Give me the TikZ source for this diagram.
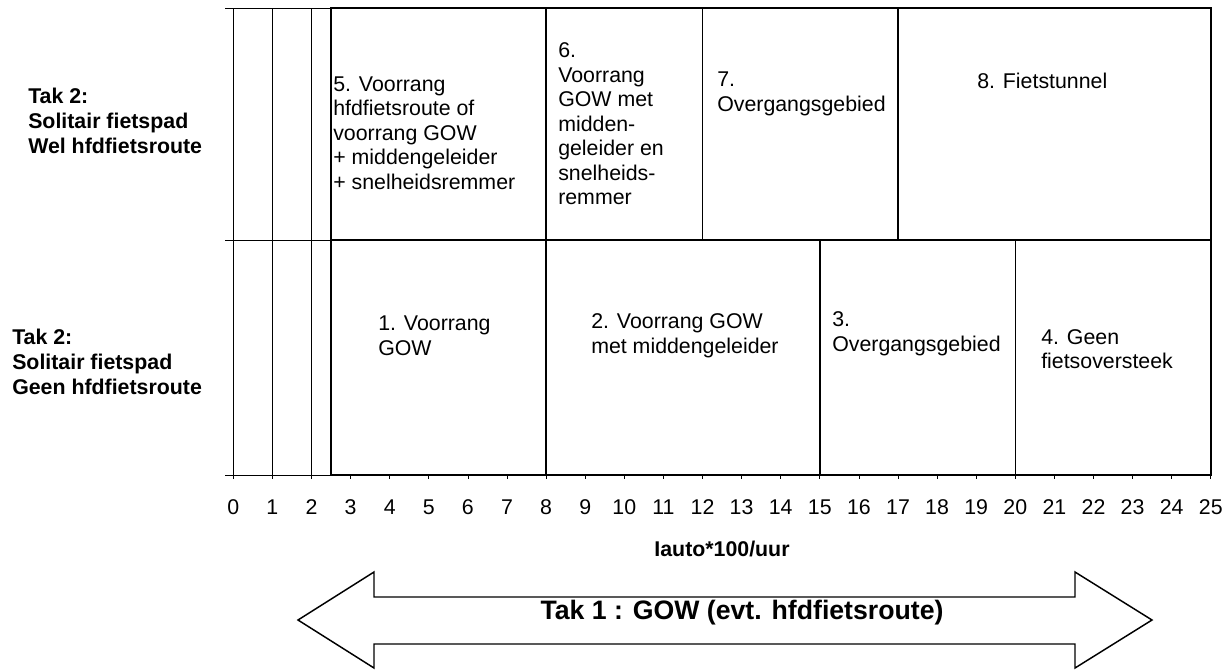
\documentclass[tikz,border=0pt]{standalone}
\usepackage{fontspec}
\setmainfont{Liberation Sans}
\begin{document}
\begin{tikzpicture}[x=0.75pt,y=-0.75pt,
  thinline/.style={line width=0.5pt, draw=black},
  boxline/.style={line width=1.1pt, draw=black},
  lbl/.style={inner sep=0pt, anchor=west, align=left, font=\fontsize{16}{18.4}\selectfont},
  sidelbl/.style={inner sep=0pt, anchor=west, align=left, font=\fontsize{16}{18.9}\selectfont\bfseries},
  num/.style={inner sep=0pt, anchor=center, font=\fontsize{16}{18.4}\selectfont},
  arrowtext/.style={inner sep=0pt, anchor=center, font=\fontsize{20}{24}\selectfont\bfseries}]
\useasboundingbox (0,0) rectangle (1232,669);

% grid / axes
\draw[thinline] (225,8) -- (331,8);
\draw[thinline] (225,240) -- (331,240);
\draw[thinline] (225,475) -- (1210.8,475);
\foreach \v in {0,1,2}
  \draw[thinline] ({233.3+39.1*\v},8) -- ({233.3+39.1*\v},475);
\foreach \v in {0,...,25}{
  \coordinate (t\v) at ({233.3+39.1*\v},475);
  \draw[thinline] (t\v) -- ++(0,4);
  \node[num] (n\v) at ({233.3+39.1*\v},507) {\v};
}

% upper row boxes
\draw[boxline] (331,8) rectangle (546.1,240);
\draw[boxline] (546.1,8) rectangle (702.5,240);
\draw[boxline] (702.5,8) rectangle (898,240);
\draw[boxline] (898,8) rectangle (1210.8,240);
% lower row boxes
\draw[boxline] (331,240) rectangle (546.1,475);
\draw[boxline] (546.1,240) rectangle (819.8,475);
\draw[boxline] (819.8,240) rectangle (1015.3,475);
\draw[boxline] (1015.3,240) rectangle (1210.8,475);

% box texts
\node[lbl] (b5) at (333,133) {5. Voorrang\\hfdfietsroute of\\voorrang GOW\\+ middengeleider\\+ snelheidsremmer};
\node[lbl] (b6) at (558,124) {6.\\Voorrang\\GOW met\\midden-\\geleider en\\snelheids-\\remmer};
\node[lbl] (b7) at (717,94) {7.\\Overgangsgebied};
\node[lbl] (b8) at (977,81) {8. Fietstunnel};
\node[lbl] (b1) at (378,336) {1. Voorrang\\GOW};
\node[lbl] (b2) at (591,336) {2. Voorrang GOW\\met middengeleider};
\node[lbl] (b3) at (832,334) {3.\\Overgangsgebied};
\node[lbl] (b4) at (1041,349) {4. Geen\\fietsoversteek};

% side labels
\node[sidelbl] (s1) at (28,121) {Tak 2:\\Solitair fietspad\\Wel hfdfietsroute};
\node[sidelbl] (s2) at (12,362) {Tak 2:\\Solitair fietspad\\Geen hfdfietsroute};

% axis title
\node[num, font=\fontsize{16}{18.4}\selectfont\bfseries] (ax) at (722,549) {Iauto*100/uur};

% double arrow
\draw[line width=1.1pt] (298,620) -- (374,572) -- (374,597) -- (1075,597) -- (1075,572)
  -- (1152,620) -- (1075,668) -- (1075,644) -- (374,644) -- (374,668) -- cycle;
\node[arrowtext] (tak1) at (742,613) {Tak 1 : GOW (evt. hfdfietsroute)};
\end{tikzpicture}
\end{document}
